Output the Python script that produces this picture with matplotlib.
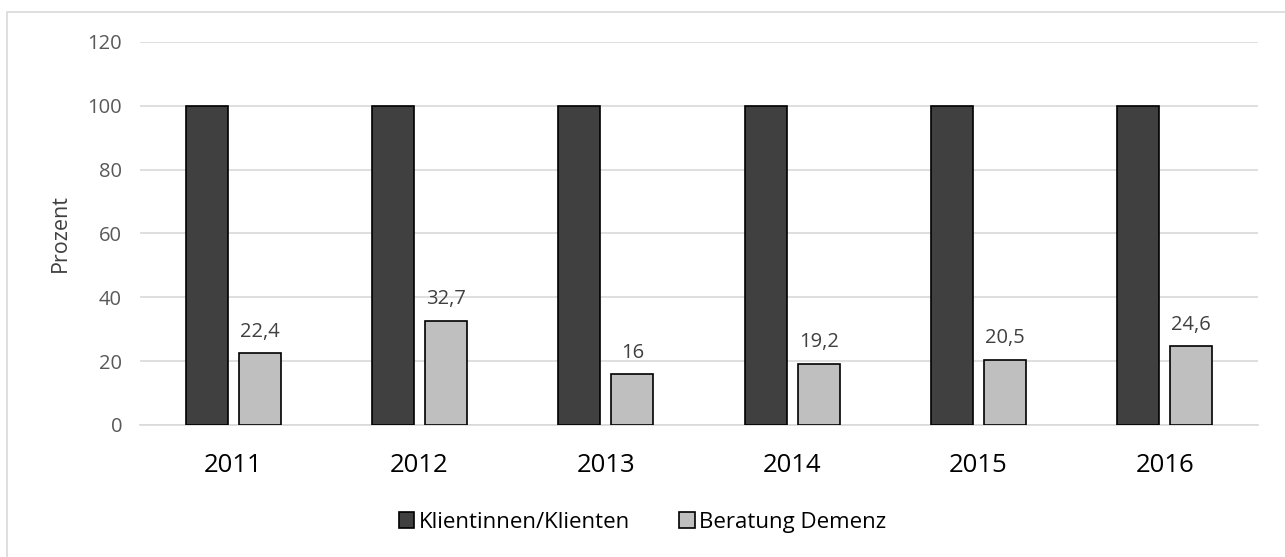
import numpy as np
import matplotlib.pyplot as plt
from matplotlib.patches import Rectangle

plt.rcParams['font.family'] = ['Open Sans', 'DejaVu Sans']

years = ["2011", "2012", "2013", "2014", "2015", "2016"]
klienten = [100, 100, 100, 100, 100, 100]
demenz = [22.4, 32.7, 16, 19.2, 20.5, 24.6]
demenz_labels = ["22,4", "32,7", "16", "19,2", "20,5", "24,6"]

fig = plt.figure(figsize=(12.85, 5.57), dpi=100)
ax = fig.add_axes([0.109, 0.237, 0.870, 0.688])

x = np.arange(len(years))
w = 0.225
ax.bar(x - 0.142, klienten, w, color="#404040", edgecolor="black", linewidth=1.2,
       label="Klientinnen/Klienten", zorder=3)
ax.bar(x + 0.142, demenz, w, color="#BFBFBF", edgecolor="black", linewidth=1.2,
       label="Beratung Demenz", zorder=3)

for xi, v, t in zip(x, demenz, demenz_labels):
    ax.text(xi + 0.142, v + 3.5, t, ha="center", va="bottom", fontsize=14.5, color="#404040")

ax.set_xlim(-0.5, len(years) - 0.5)
ax.set_ylim(0, 120)
ax.set_yticks(range(0, 121, 20))
ax.set_xticks(x)
ax.set_xticklabels(years, fontsize=18.5, color="black")
ax.tick_params(axis="y", labelsize=14.5, labelcolor="#595959", length=0, pad=13)
ax.tick_params(axis="x", length=0, pad=20)
ax.grid(axis="y", color="#D9D9D9", linewidth=1.2, zorder=0)
for s in ["top", "right", "left"]:
    ax.spines[s].set_visible(False)
ax.spines["bottom"].set_color("#D9D9D9")
ax.spines["bottom"].set_linewidth(1.2)
ax.set_ylabel("Prozent", fontsize=15.5, color="#404040", labelpad=12)

leg = fig.legend(loc="center", bbox_to_anchor=(0.5, 0.062), ncol=2, frameon=False,
                 fontsize=16, handlelength=0.7, handleheight=0.7, handletextpad=0.2,
                 columnspacing=2.2)

fig.patches.append(Rectangle((0.0055, -0.1), 1.2, 1.078, transform=fig.transFigure,
                             fill=False, edgecolor="#D9D9D9", linewidth=1.2))

fig.savefig("out.png", dpi=100)
